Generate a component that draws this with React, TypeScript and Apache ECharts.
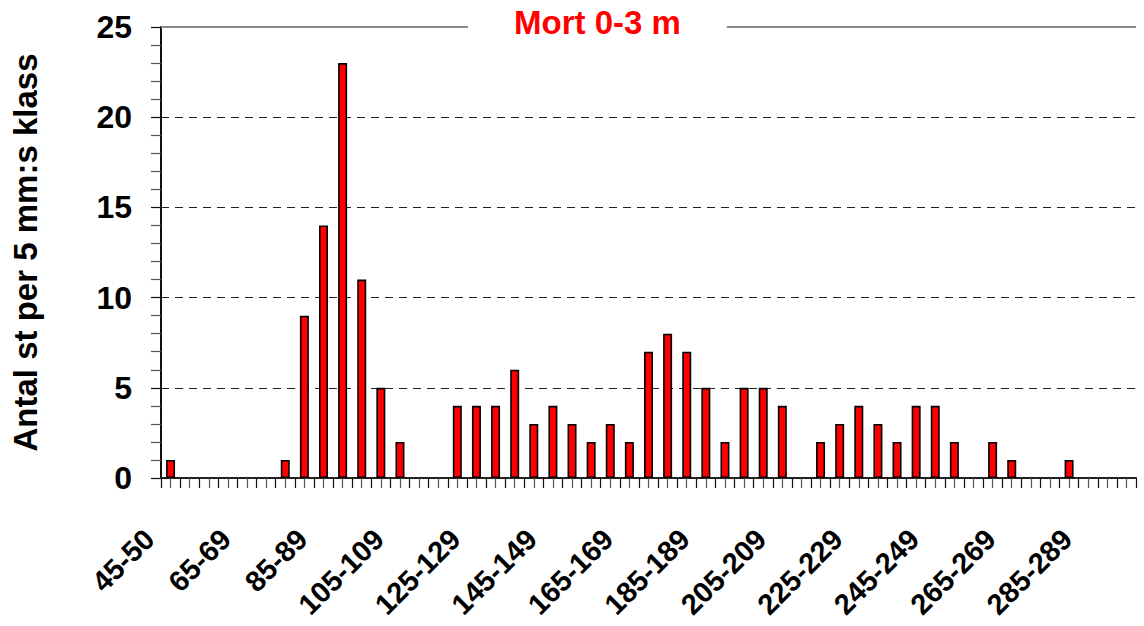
import React, { useEffect, useRef } from "react";
import * as echarts from "echarts";

const categories = [
  "45-50", "50-54", "55-59", "60-64", "65-69", "70-74", "75-79", "80-84", "85-89", "90-94",
  "95-99", "100-104", "105-109", "110-114", "115-119", "120-124", "125-129", "130-134", "135-139", "140-144",
  "145-149", "150-154", "155-159", "160-164", "165-169", "170-174", "175-179", "180-184", "185-189", "190-194",
  "195-199", "200-204", "205-209", "210-214", "215-219", "220-224", "225-229", "230-234", "235-239", "240-244",
  "245-249", "250-254", "255-259", "260-264", "265-269", "270-274", "275-279", "280-284", "285-289", "290-294",
  "295-299",
];

const counts = [
  1, 0, 0, 0, 0, 0, 1, 9, 14, 23,
  11, 5, 2, 0, 0, 4, 4, 4, 6, 3,
  4, 3, 2, 3, 2, 7, 8, 7, 5, 2,
  5, 5, 4, 0, 2, 3, 4, 3, 2, 4,
  4, 2, 0, 2, 1, 0, 0, 1, 0, 0,
  0,
];

const titleText = "Mort 0-3 m";
const yAxisName = "Antal st per 5 mm:s klass";
const yMin = 0;
const yMax = 25;
const yStep = 5;

const FONT = "'Liberation Sans', Arial, Helvetica, sans-serif";

export default function App() {
  const ref = useRef<HTMLDivElement>(null);

  useEffect(() => {
    if (!ref.current) return;
    const chart = echarts.init(ref.current, null, { renderer: "svg" });
    chart.setOption({
      animation: false,
      backgroundColor: "#ffffff",
      title: {
        text: titleText,
        left: 468,
        top: 6,
        padding: [0, 46, 2, 46],
        backgroundColor: "#ffffff",
        textStyle: {
          color: "#ff0000",
          fontSize: 33,
          fontWeight: "bold",
          fontFamily: FONT,
        },
      },
      grid: {
        left: 161,
        right: 8,
        top: 27,
        bottom: 148,
        containLabel: false,
        outerBoundsMode: "none",
      },
      xAxis: [
        {
          type: "category",
          data: categories,
          position: "bottom",
          axisLine: { show: true, lineStyle: { color: "#222", width: 2 } },
          axisTick: {
            show: true,
            interval: 0,
            alignWithLabel: false,
            length: 10,
            lineStyle: { color: "#111", width: 1.2 },
          },
          axisLabel: {
            interval: 3,
            rotate: 45,
            margin: 35,
            padding: [0, 30, 0, 0],
            lineHeight: 30,
            color: "#000",
            fontSize: 29,
            fontWeight: "bold",
            fontFamily: FONT,
          },
          splitLine: { show: false },
        },
        {
          type: "category",
          data: categories,
          position: "bottom",
          axisLine: { show: false },
          axisTick: {
            show: true,
            interval: 0,
            alignWithLabel: true,
            length: 10,
            lineStyle: { color: "#555", width: 1.2 },
          },
          axisLabel: { show: false },
          splitLine: { show: false },
        },
      ],
      yAxis: {
        type: "value",
        min: yMin,
        max: yMax,
        interval: yStep,
        name: yAxisName,
        nameLocation: "middle",
        nameGap: 119,
        nameTextStyle: {
          color: "#000",
          fontSize: 33,
          fontWeight: "bold",
          fontFamily: FONT,
        },
        axisLine: { show: true, lineStyle: { color: "#111", width: 2 } },
        axisTick: { show: true, length: 10, lineStyle: { color: "#111", width: 1.2 } },
        minorTick: { show: true, splitNumber: 5, length: 10, lineStyle: { color: "#555", width: 1.2 } },
        axisLabel: {
          margin: 29,
          color: "#000",
          fontSize: 32,
          fontWeight: "bold",
          fontFamily: FONT,
        },
        splitLine: {
          show: true,
          lineStyle: { color: "#222", width: 1.2, type: [8, 6] },
        },
      },
      series: [
        {
          type: "bar",
          xAxisIndex: 0,
          data: counts.map((v) => (v === 0 ? "-" : v)),
          barWidth: 9,
          itemStyle: { color: "#ff0000", borderColor: "#000", borderWidth: 1.6 },
          markLine: {
            silent: true,
            symbol: "none",
            label: { show: false },
            lineStyle: { color: "#8a8a8a", width: 2, type: "solid" },
            data: [{ yAxis: yMax }],
          },
        },
      ],
    });
    return () => chart.dispose();
  }, []);

  return (
    <div
      ref={ref}
      style={{ position: "absolute", left: 0, top: 0, width: 1144, height: 626 }}
    />
  );
}
